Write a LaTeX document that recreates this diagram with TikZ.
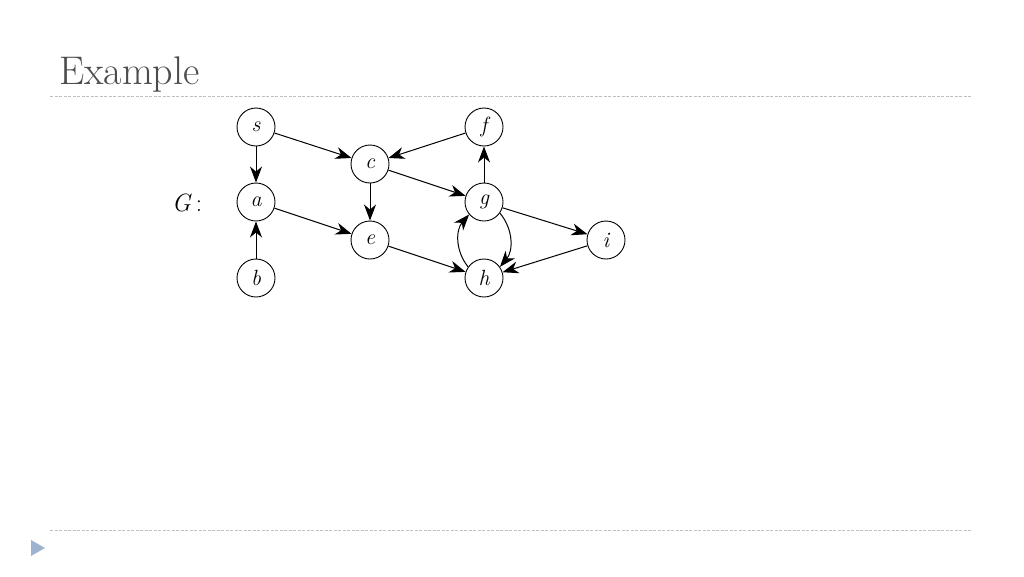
\documentclass[tikz,border=0pt]{standalone}
\usepackage{fontspec}
\usetikzlibrary{arrows.meta}
\begin{document}
\begin{tikzpicture}[x=1pt,y=-1pt,
  vtx/.style={circle,draw,line width=0.9pt,minimum size=38pt,inner sep=0pt,font=\fontsize{22}{22}\selectfont\itshape},
  edge/.style={line width=1pt,-{Stealth[length=16pt,width=12pt,inset=5pt]}},
  rule/.style={draw=black!25,dashed,dash pattern=on 3pt off 1.5pt,line width=0.8pt}]
\useasboundingbox (0,0) rectangle (1024,576);
\node[anchor=base west,text=black!70,inner sep=0pt,font=\fontsize{40}{40}\selectfont] (title) at (59,84) {Example};
\coordinate (t1) at (50,96); \coordinate (t2) at (972,96);
\draw[rule] (t1) -- (t2);
\coordinate (b1) at (50,530); \coordinate (b2) at (972,530);
\draw[rule] (b1) -- (b2);
\fill[fill={rgb,255:red,158;green,180;blue,206}] (31,540) -- (45,548) -- (31,556) -- cycle;
\node[font=\fontsize{25}{25}\selectfont] (G) at (187,203) {\textit{G}\,:};
\node[vtx] (s) at (256,127) {s};
\node[vtx] (c) at (370,164) {c};
\node[vtx] (f) at (484,127) {f};
\node[vtx] (a) at (256,202) {a};
\node[vtx] (g) at (484,202) {g};
\node[vtx] (e) at (370,240) {e};
\node[vtx] (i) at (606,240) {i};
\node[vtx] (b) at (256,278) {b};
\node[vtx] (h) at (484,278) {h};
\draw[edge] (s) -- (a);
\draw[edge] (s) -- (c);
\draw[edge] (f) -- (c);
\draw[edge] (c) -- (e);
\draw[edge] (c) -- (g);
\draw[edge] (a) -- (e);
\draw[edge] (b) -- (a);
\draw[edge] (e) -- (h);
\draw[edge] (g) -- (f);
\draw[edge] (g) -- (i);
\draw[edge] (i) -- (h);
\draw[edge] (g.-35) to[bend left=40] (h.35);
\draw[edge] (h.145) to[bend left=40] (g.-140);
\end{tikzpicture}
\end{document}
